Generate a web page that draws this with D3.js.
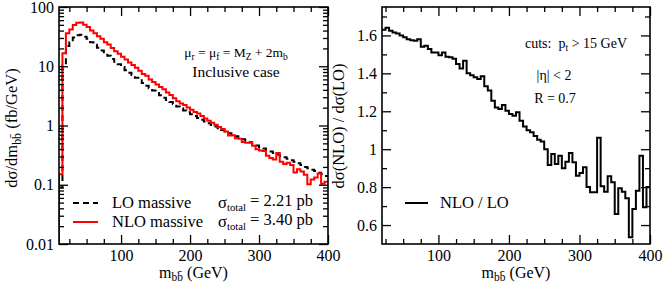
<!DOCTYPE html>
<html><head><meta charset="utf-8">
<script src="https://cdn.jsdelivr.net/npm/d3@7"></script>
<style>
body{margin:0;background:#fff}
svg text{font-family:"Liberation Serif","Tinos","Times New Roman","Nimbus Roman","DejaVu Serif",serif !important;fill:#000}
</style>
</head><body>
<svg id="c" width="664" height="289"></svg>
<script>
// ---- data (bin low edges, GeV; bin width 5 GeV) ----
const massBins = [10,15,20,25,30,35,40,45,50,55,60,65,70,75,80,85,90,95,100,105,110,115,120,125,130,135,140,145,150,155,160,165,170,175,180,185,190,195,200,205,210,215,220,225,230,235,240,245,250,255,260,265,270,275,280,285,290,295,300,305,310,315,320,325,330,335,340,345,350,355,360,365,370,375,380,385,390,395];
const loMassive = [0.09,10.3,22,25.5,30.5,33.5,34,31.5,29,25.5,23,20.5,18.5,16.5,15,13.3,11.9,10.8,9.7,8.6,7.8,7.1,6.4,5.8,5.2,4.7,4.25,3.9,3.55,3.25,2.95,2.7,2.5,2.3,2.1,1.95,1.8,1.67,1.55,1.44,1.34,1.25,1.17,1.09,1.02,0.96,0.9,0.84,0.79,0.74,0.7,0.66,0.62,0.585,0.55,0.52,0.49,0.46,0.435,0.41,0.385,0.365,0.345,0.325,0.305,0.29,0.275,0.26,0.245,0.23,0.215,0.2,0.19,0.18,0.17,0.16,0.15,0.14];
const nloMassive = [0.15,16.5,35.9,41.8,49.6,54.1,54.7,50.4,46.1,40.3,36.2,32.2,29.2,25.4,23.2,20.3,18.0,16.3,14.5,13.0,11.6,10.5,9.45,8.41,7.41,6.89,5.95,5.42,4.90,4.45,4.09,3.60,3.28,2.89,2.56,2.36,2.22,2.01,1.84,1.69,1.60,1.44,1.31,1.20,1.11,1.03,0.945,0.874,0.79,0.679,0.683,0.609,0.599,0.526,0.514,0.51,0.456,0.396,0.380,0.371,0.308,0.282,0.267,0.345,0.245,0.225,0.236,0.215,0.161,0.183,0.167,0.148,0.102,0.123,0.133,0.155,0.104,0.112];
const ratioBins = [20,25,30,35,40,45,50,55,60,65,70,75,80,85,90,95,100,105,110,115,120,125,130,135,140,145,150,155,160,165,170,175,180,185,190,195,200,205,210,215,220,225,230,235,240,245,250,255,260,265,270,275,280,285,290,295,300,305,310,315,320,325,330,335,340,345,350,355,360,365,370,375,380,385,390,395];
const ratioNloLo = [1.63,1.64,1.625,1.615,1.61,1.60,1.59,1.58,1.575,1.572,1.58,1.54,1.545,1.528,1.51,1.51,1.495,1.51,1.487,1.485,1.477,1.45,1.425,1.467,1.40,1.39,1.38,1.37,1.385,1.332,1.31,1.256,1.22,1.212,1.233,1.203,1.186,1.177,1.195,1.15,1.12,1.10,1.09,1.07,1.05,1.04,1.0,0.917,0.975,0.922,0.966,0.899,0.934,0.98,0.931,0.86,0.874,0.905,0.80,0.773,0.773,1.06,0.804,0.776,0.857,0.826,0.658,0.794,0.776,0.741,0.535,0.685,0.781,0.966,0.694,0.80];
const binWidth = 5;
const xTicks = [100,200,300,400];
const xMinorTicks = [25,50,75,125,150,175,225,250,275,325,350,375];
const logTicks = [0.01,0.1,1,10,100];
const logTickLabels = ["0.01","0.1","1","10","100"];
const ratioTicks = [0.6,0.8,1.0,1.2,1.4,1.6];
const ratioTickLabels = ["0.6","0.8","1","1.2","1.4","1.6"];
const ratioMinorTicks = [0.7,0.9,1.1,1.3,1.5,1.7];

const svg = d3.select("#c");
const FONT = '"Liberation Serif","Tinos","Times New Roman","Nimbus Roman","DejaVu Serif",serif';
const FS = 16;
const LFS = 16.5;
const TOP = 7, BOT = 244;
const MAJ = 9, MIN = 5;

// scales
const xL = d3.scaleLinear([10,400],[59,328]);
const yL = d3.scaleLog([0.01,100],[BOT,TOP]);
const xR = d3.scaleLinear([20,400],[382,650]);
const yR = d3.scaleLinear([0.5,1.75],[BOT,TOP]);

const logMinor = [];
for (const d of [0.01,0.1,1,10]) for (let k=2;k<=9;k++) logMinor.push(d*k);

function styleAxis(g){
  g.attr("font-family",FONT);
  g.select(".domain").remove();
  g.selectAll(".tick line").attr("stroke","#000").attr("stroke-width",1.3);
  g.selectAll(".tick text").attr("font-size",FS).attr("font-family",FONT).attr("fill","#000");
}

function frame(x,y,xt,xmt,yt,ytl,ymt){
  const [x0,x1]=x.range();
  svg.append("g").attr("transform",`translate(0,${BOT})`)
    .call(d3.axisBottom(x).tickValues(xt).tickSize(-MAJ).tickPadding(6).tickFormat(d3.format("d"))).call(styleAxis);
  svg.append("g").attr("transform",`translate(0,${BOT})`)
    .call(d3.axisBottom(x).tickValues(xmt).tickSize(-MIN).tickFormat("")).call(styleAxis);
  svg.append("g").attr("transform",`translate(0,${TOP})`)
    .call(d3.axisTop(x).tickValues(xt).tickSize(-MAJ).tickFormat("")).call(styleAxis);
  svg.append("g").attr("transform",`translate(0,${TOP})`)
    .call(d3.axisTop(x).tickValues(xmt).tickSize(-MIN).tickFormat("")).call(styleAxis);
  svg.append("g").attr("transform",`translate(${x0},0)`)
    .call(d3.axisLeft(y).tickValues(yt).tickSize(-MAJ).tickPadding(5).tickFormat((d,i)=>ytl[i])).call(styleAxis);
  svg.append("g").attr("transform",`translate(${x0},0)`)
    .call(d3.axisLeft(y).tickValues(ymt).tickSize(-MIN).tickFormat("")).call(styleAxis);
  svg.append("g").attr("transform",`translate(${x1},0)`)
    .call(d3.axisRight(y).tickValues(yt).tickSize(-MAJ).tickFormat("")).call(styleAxis);
  svg.append("g").attr("transform",`translate(${x1},0)`)
    .call(d3.axisRight(y).tickValues(ymt).tickSize(-MIN).tickFormat("")).call(styleAxis);
  svg.append("rect").attr("x",x0).attr("y",TOP).attr("width",x1-x0).attr("height",BOT-TOP)
    .attr("fill","none").attr("stroke","#000").attr("stroke-width",1.6);
}

function clip(id,x){
  const [x0,x1]=x.range();
  svg.append("clipPath").attr("id",id).append("rect").attr("x",x0).attr("y",TOP).attr("width",x1-x0).attr("height",BOT-TOP);
}

function histPath(x,y,edges,vals,startFromBase,base){
  const pts=[];
  if(startFromBase) pts.push([edges[0],base]);
  edges.forEach((e,i)=>{pts.push([e,vals[i]]);pts.push([e+binWidth,vals[i]]);});
  return d3.line().x(d=>x(d[0])).y(d=>y(d[1]))(pts);
}

// ---------- left panel ----------
clip("clipL",xL);
svg.append("path").attr("d",histPath(xL,yL,massBins,loMassive,false))
  .attr("fill","none").attr("stroke","#000").attr("stroke-width",2).attr("stroke-dasharray","6,4")
  .attr("clip-path","url(#clipL)");
svg.append("path").attr("d",histPath(xL,yL,massBins,nloMassive,true,0.001))
  .attr("fill","none").attr("stroke","#ff0000").attr("stroke-width",2)
  .attr("clip-path","url(#clipL)");
frame(xL,yL,xTicks,xMinorTicks,logTicks,logTickLabels,logMinor);

// ---------- right panel ----------
clip("clipR",xR);
svg.append("path").attr("d",histPath(xR,yR,ratioBins,ratioNloLo,false))
  .attr("fill","none").attr("stroke","#000").attr("stroke-width",2)
  .attr("clip-path","url(#clipR)");
frame(xR,yR,xTicks,xMinorTicks,ratioTicks,ratioTickLabels,ratioMinorTicks);

// ---------- text helpers ----------
function rich(parent, parts, attrs){
  const t = parent.append("text").attr("font-family",FONT);
  for (const k in attrs) t.attr(k, attrs[k]);
  parts.forEach(p=>{
    const s=t.append("tspan").text(p.t);
    if(p.sub){ s.attr("font-size",p.fs||"0.7em").attr("dy",p.dy||"0.28em"); }
    if(p.back){ s.attr("dy",p.back); }
  });
  return t;
}
function txt(x,y,s,fs,anchor){
  return svg.append("text").attr("x",x).attr("y",y).attr("font-family",FONT)
    .attr("font-size",fs).attr("text-anchor",anchor||"start").text(s);
}

// x-axis titles
const bbb = "bb\u0304";
[xL,xR].forEach(x=>{
  const cx=(x.range()[0]+x.range()[1])/2;
  rich(svg,[{t:"m"},{t:bbb,sub:true,fs:"0.72em",dy:"0.3em"},{t:" (GeV)",back:"-0.22em"}],
    {x:cx,y:278,"text-anchor":"middle","font-size":FS});
});
// y-axis titles
rich(svg,[{t:"d\u03c3/dm"},{t:bbb,sub:true,fs:"0.72em",dy:"0.3em"},{t:" (fb/GeV)",back:"-0.22em"}],
  {transform:"translate(17,128) rotate(-90)","text-anchor":"middle","font-size":16.5});
svg.append("text").attr("transform","translate(344,126) rotate(-90)").attr("text-anchor","middle")
  .attr("font-family",FONT).attr("font-size",16.5).text("d\u03c3(NLO) / d\u03c3(LO)");

// left annotations
rich(svg,[{t:"\u03bc"},{t:"r",sub:true},{t:" = \u03bc",back:"-0.196em"},{t:"f",sub:true},{t:" = M",back:"-0.196em"},{t:"Z",sub:true},{t:" + 2m",back:"-0.196em"},{t:"b",sub:true}],
  {x:236,y:57,"text-anchor":"middle","font-size":13.5});
txt(236,77,"Inclusive case",15.5,"middle");

// left legend
svg.append("line").attr("x1",73).attr("x2",98).attr("y1",203).attr("y2",203)
  .attr("stroke","#000").attr("stroke-width",2).attr("stroke-dasharray","6,4");
svg.append("line").attr("x1",73).attr("x2",98).attr("y1",222).attr("y2",222)
  .attr("stroke","#ff0000").attr("stroke-width",2);
txt(112,208,"LO massive",LFS);
txt(112,227,"NLO massive",LFS);
rich(svg,[{t:"\u03c3"},{t:"total",sub:true,fs:"0.65em",dy:"0.3em"},{t:" = 2.21 pb",back:"-0.3em"}],{x:218,y:208,"font-size":LFS});
rich(svg,[{t:"\u03c3"},{t:"total",sub:true,fs:"0.65em",dy:"0.3em"},{t:" = 3.40 pb",back:"-0.3em"}],{x:218,y:227,"font-size":LFS});

// right annotations
rich(svg,[{t:"cuts:\u00a0\u00a0p"},{t:"t",sub:true},{t:" > 15 GeV",back:"-0.196em"}],{x:525,y:48,"font-size":14});
txt(554,80,"|\u03b7| < 2",14,"middle");
txt(555,103,"R = 0.7",14,"middle");

// right legend
svg.append("line").attr("x1",405).attr("x2",428).attr("y1",203).attr("y2",203)
  .attr("stroke","#000").attr("stroke-width",2);
txt(440,208,"NLO / LO",LFS);
</script>
</body></html>
